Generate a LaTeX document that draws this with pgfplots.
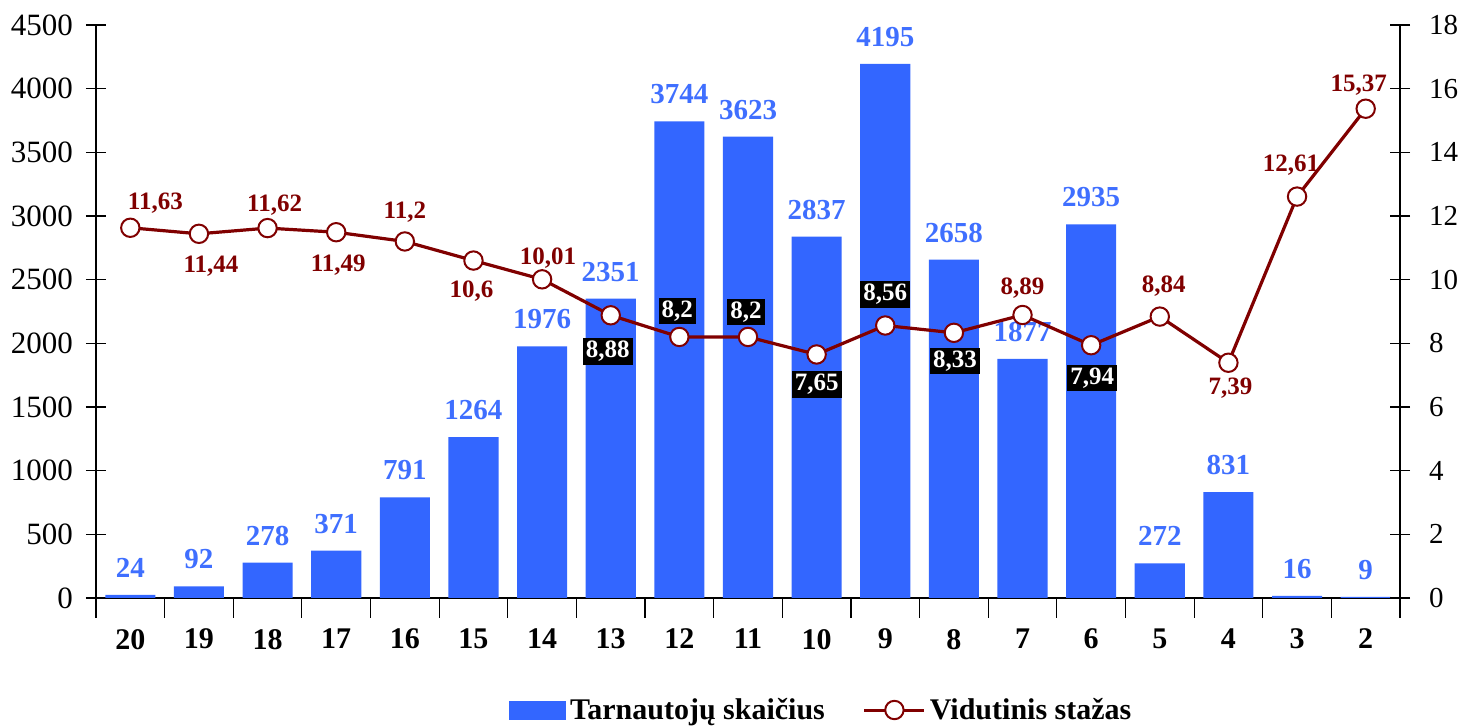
\documentclass[border=0pt]{standalone}
\usepackage{fontspec}
\setmainfont{Liberation Serif}
\usepackage{pgfplots}
\pgfplotsset{compat=1.18}
\usepackage{pgfplotstable}
\definecolor{barblue}{HTML}{3366FF}
\definecolor{lblblue}{HTML}{3F6FFF}
\definecolor{linered}{HTML}{800000}

\pgfplotstableread{
x y
0 24
1 92
2 278
3 371
4 791
5 1264
6 1976
7 2351
8 3744
9 3623
10 2837
11 4195
12 2658
13 1877
14 2935
15 272
16 831
17 16
18 9
}\bars

\pgfplotstableread{
x y
0 11.63
1 11.44
2 11.62
3 11.49
4 11.2
5 10.6
6 10.01
7 8.88
8 8.2
9 8.2
10 7.65
11 8.56
12 8.33
13 8.89
14 7.94
15 8.84
16 7.39
17 12.61
18 15.37
}\linedata

% label at data point (x,y), text, shift dx, dy (pt)
\newcommand{\redl}[5]{%
  \addplot[draw=none, mark=none, forget plot, nodes near coords={#3},
    every node near coord/.append style={font=\bfseries\fontsize{12.5}{14}\selectfont,
      text=linered, anchor=center, xshift=#4pt, yshift=#5pt, inner sep=1.5pt}]
    coordinates {(#1,#2)};}
\newcommand{\boxl}[5]{%
  \addplot[draw=none, mark=none, forget plot, nodes near coords={#3},
    every node near coord/.append style={font=\bfseries\fontsize{12.5}{14}\selectfont,
      text=white, fill=black, anchor=center, xshift=#4pt, yshift=#5pt, inner sep=1.5pt}]
    coordinates {(#1,#2)};}

\pgfplotsset{
  common/.style={
    scale only axis, width=652pt, height=286.5pt,
    at={(0,0)}, anchor=south west,
    xmin=-0.5, xmax=18.5,
    clip=false,
    tick align=center,
    major tick length=10pt,
    tick style={black, line width=0.6pt},
    scaled ticks=false,
    /pgf/number format/1000 sep={},
    /pgf/number format/assume math mode=true,
    ticklabel style={font=\fontsize{15.5}{18}\selectfont},
  }
}

\begin{document}
\begin{tikzpicture}
\path[use as bounding box] (-48pt,-64pt) rectangle (681pt,299pt);
\begin{axis}[
  common,
  ymin=0, ymax=4500,
  axis x line=bottom, axis y line=left,
  axis line style={-, black, line width=0.6pt},
  x axis line style={-}, y axis line style={-},
  ytick={0,500,...,4500},
  yticklabel style={xshift=-3pt},
  xtick={-0.5,0.5,...,18.5},
  xticklabels={},
  extra x ticks={0,...,18},
  extra x tick labels={20,19,18,17,16,15,14,13,12,11,10,9,8,7,6,5,4,3,2},
  extra x tick style={major tick length=0pt,
    tick label style={font=\bfseries\fontsize{15}{18}\selectfont, yshift=-12pt}},
  ybar, bar width=0.73,
  nodes near coords,
  every node near coord/.append style={font=\bfseries\fontsize{14.5}{16}\selectfont,
    text=lblblue, anchor=center, yshift=13.5pt},
]
\addplot[fill=barblue, draw=none] table[x=x, y=y] {\bars};
\end{axis}
\begin{axis}[
  common,
  ymin=0, ymax=18,
  axis x line=none, axis y line=right,
  axis line style={-, black, line width=0.6pt},
  y axis line style={-},
  ytick={0,2,...,18},
  yticklabel style={font=\fontsize{14.5}{17}\selectfont, xshift=6pt},
  legend columns=2,
  legend style={draw=none, fill=none, at={(0.557,-0.1955)}, anchor=center,
    font=\bfseries\fontsize{15}{18}\selectfont,
    /tikz/every even column/.append style={column sep=17pt}},
]
\addlegendimage{legend image code/.code={\fill[barblue] (-1pt,-4.5pt) rectangle (27pt,4.5pt);}}
\addlegendentry{Tarnautojų skaičius}
\addplot[linered, line width=1.6pt, mark=*, mark size=4.6pt,
  mark options={fill=white, draw=linered, line width=1pt},
  legend image code/.code={\draw[linered, line width=1.5pt] (0pt,0pt) -- (30pt,0pt);
    \draw[linered, fill=white, line width=1pt] (15pt,0pt) circle (4.6pt);}]
  table[x=x, y=y] {\linedata};
\addlegendentry{Vidutinis stažas}
\redl{0}{11.63}{11,63}{12.5}{12.5}
\redl{1}{11.44}{11,44}{6}{-16}
\redl{2}{11.62}{11,62}{3.5}{11.5}
\redl{3}{11.49}{11,49}{1}{-16.5}
\redl{4}{11.2}{11,2}{0}{14.5}
\redl{5}{10.6}{10,6}{-1}{-15.5}
\redl{6}{10.01}{10,01}{3}{10.5}
\boxl{7}{8.88}{8,88}{-1.5}{-18}
\boxl{8}{8.2}{8,2}{-1}{13}
\boxl{9}{8.2}{8,2}{-1}{12.5}
\boxl{10}{7.65}{7,65}{0}{-15}
\boxl{11}{8.56}{8,56}{0}{15.5}
\boxl{12}{8.33}{8,33}{0.5}{-14}
\redl{13}{8.89}{8,89}{0}{13.5}
\boxl{14}{7.94}{7,94}{0.5}{-16.5}
\redl{15}{8.84}{8,84}{2}{15}
\redl{16}{7.39}{7,39}{1}{-12.5}
\redl{17}{12.61}{12,61}{-3}{15.5}
\redl{18}{15.37}{15,37}{-3.5}{12}
\end{axis}
\end{tikzpicture}
\end{document}
